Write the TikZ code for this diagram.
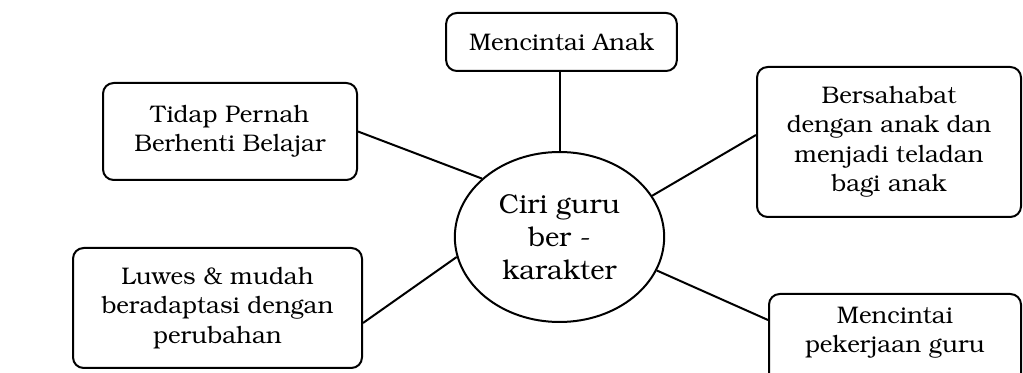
\documentclass[tikz,border=0pt]{standalone}
\usepackage[T1]{fontenc}
\usepackage{bookman}
\usetikzlibrary{shapes.geometric,positioning}
\tikzset{
  kotak/.style={draw, rounded corners=8pt, line width=1.5pt, align=center, inner sep=0pt},
  garis/.style={line width=1.5pt},
}
\begin{document}
\begin{tikzpicture}[x=0.75pt,y=-0.75pt,font=\fontsize{18}{22}\selectfont]
\useasboundingbox (0,0) rectangle (1023,373);
% pusat
\node[draw,ellipse,line width=1.5pt,minimum width=157pt,minimum height=127.5pt,inner sep=0pt,align=center,font=\fontsize{20.5}{25}\selectfont](ciri) at (559.5,237){Ciri guru\\ber -\\karakter};
% kotak-kotak
\node[kotak,minimum width=173pt,minimum height=43.5pt](anak) at (561.5,42){Mencintai Anak};
\node[kotak,minimum width=190.5pt,minimum height=72.75pt](tidap) at (230,131.5){Tidap Pernah\\Berhenti Belajar};
\node[kotak,minimum width=198pt,minimum height=112.5pt](sahabat) at (889,142){Bersahabat\\dengan anak dan\\menjadi teladan\\bagi anak};
\node[kotak,minimum width=216.75pt,minimum height=90pt](luwes) at (217.5,308){Luwes \& mudah\\beradaptasi dengan\\perubahan};
\node[kotak,minimum width=189pt,minimum height=90pt,anchor=north](kerja) at (895,293){};
\node[align=center,inner sep=0pt,below=10pt of kerja.north](kerjateks){Mencintai\\pekerjaan guru};
% garis
\draw[garis](ciri.north)--(ciri.north |- anak.south);
\draw[garis](tidap.east)--(ciri.143);
\draw[garis]([yshift=5.25pt]sahabat.west)--(ciri.24);
\draw[garis]([yshift=-11.25pt]luwes.east)--(ciri.191);
\draw[garis]([yshift=-20.25pt]kerja.north west)--(ciri.-19);
\end{tikzpicture}
\end{document}
